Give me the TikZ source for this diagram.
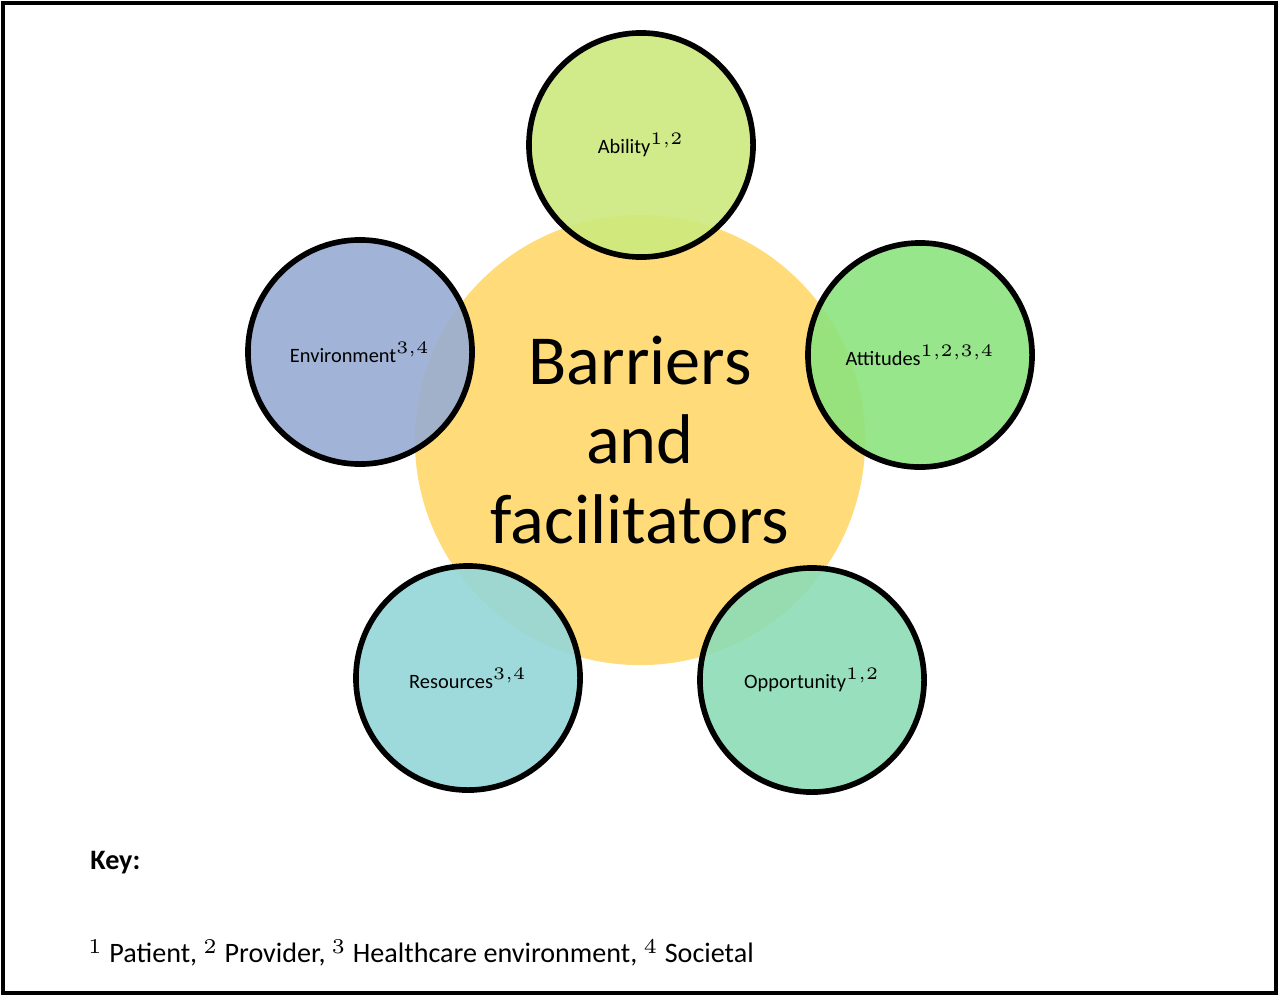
\documentclass[tikz,border=0pt]{standalone}
\usepackage{fontspec}
\setmainfont{Carlito}
\usepackage{tikz}
\usetikzlibrary{shadows}
\definecolor{coreyellow}{HTML}{FFDB7A}
\definecolor{abilitycol}{HTML}{D6F77E}
\definecolor{attitudecol}{HTML}{8EF07E}
\definecolor{opportcol}{HTML}{8EE8BE}
\definecolor{resourcecol}{HTML}{96E2E4}
\definecolor{envcol}{HTML}{9AB2DE}
\tikzset{
  factor/.style={circle, draw=black, line width=1.6pt, minimum size=2.24cm,
    fill opacity=0.8, text opacity=1, font=\fontsize{5.8}{7}\selectfont,
    drop shadow={shadow xshift=0.4pt, shadow yshift=-0.6pt, opacity=0.5}},
}
\begin{document}
\begin{tikzpicture}[x=0.01cm,y=-0.01cm]
  \useasboundingbox (0,0) rectangle (1280,997);
  \draw[line width=0.9pt] (3,3) rectangle (1276,993);
  % central circle
  \node[circle, fill=coreyellow, minimum size=4.5cm, align=center,
    font=\fontsize{20}{22}\selectfont] (core) at (640,440) {};
  \node[align=center, font=\fontsize{20}{22.5}\selectfont] (corelbl) at (640,440)
    {Barriers\\and\\facilitators};
  % surrounding factors
  \node[factor, fill=abilitycol]  (ability) at (641,145) {Ability$^{1,2}$};
  \node[factor, fill=attitudecol] (attitudes) at (920,355) {Attitudes$^{1,2,3,4}$};
  \node[factor, fill=opportcol]   (opport) at (812,680) {Opportunity$^{1,2}$};
  \node[factor, fill=resourcecol] (resources) at (468,678) {Resources$^{3,4}$};
  \node[factor, fill=envcol]      (environ) at (360,352) {Environment$^{3,4}$};
  % key
  \node[anchor=west, font=\fontsize{8}{10}\selectfont\bfseries] (keyhead) at (78,863) {Key:};
  \node[anchor=west, font=\fontsize{8}{10}\selectfont] (keytext) at (76,953)
    {$^{1}$ Patient, $^{2}$ Provider, $^{3}$ Healthcare environment, $^{4}$ Societal};
\end{tikzpicture}
\end{document}
